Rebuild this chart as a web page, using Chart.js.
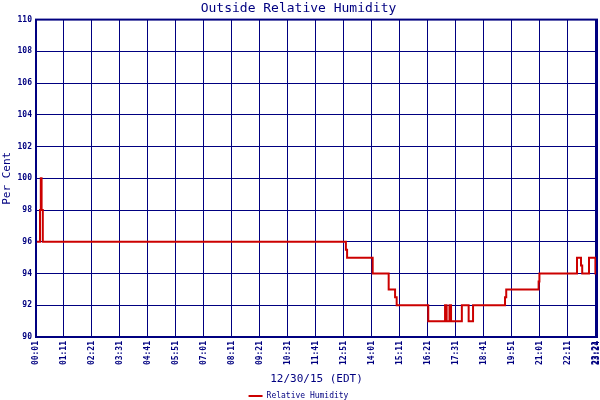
<!DOCTYPE html>
<html>
<head>
<meta charset="utf-8">
<script src="https://cdn.jsdelivr.net/npm/chart.js@4"></script>
<style>
  body { margin: 0; background: #fff; }
  #wrap { width: 600px; height: 400px; }
</style>
</head>
<body>
<div id="wrap"><canvas id="humidity-chart"></canvas></div>
<script>
// x tick labels (time of day, 12/30/15)
const tickLabels = ['00:01', '01:11', '02:21', '03:31', '04:41', '05:51', '07:01', '08:11',
  '09:21', '10:31', '11:41', '12:51', '14:01', '15:11', '16:21', '17:31', '18:41', '19:51',
  '21:01', '22:11', '23:21', '23:24'];

// minute of the day at which the reading changes, and the new reading (%)
const changeTimes = [1, 11, 13, 15, 18, 776, 779, 843, 883, 899, 903, 982, 1024, 1028, 1035,
  1039, 1066, 1083, 1094, 1174, 1177, 1258, 1260, 1354, 1364, 1367, 1384, 1400, 1404];
const humidity = [96, 98, 100, 98, 96, 95.5, 95, 94, 93, 92.5, 92, 91, 92, 91, 92,
  91, 92, 91, 92, 92.5, 93, 93.5, 94, 95, 94.5, 94, 95, 94, 94];

const yTicks = [90, 92, 94, 96, 98, 100, 102, 104, 106, 108, 110];

const NAVY = '#000080';
const RED = '#cc0000';
const BOTTOM_PAD = -10;

function toMinutes(label) {
  const [h, m] = label.split(':').map(Number);
  return h * 60 + m;
}

const points = changeTimes.map((t, i) => ({ x: t, y: humidity[i] }));

// heavier frame round the plot area
const framePlugin = {
  id: 'frame',
  afterDraw(chart) {
    const { ctx, chartArea: a } = chart;
    ctx.save();
    ctx.strokeStyle = NAVY;
    ctx.lineWidth = 2;
    ctx.strokeRect(a.left, a.top, a.right - a.left, a.bottom - a.top);
    ctx.restore();
  }
};

Chart.defaults.font.family = "'DejaVu Sans Mono', monospace";
Chart.defaults.color = NAVY;

new Chart(document.getElementById('humidity-chart'), {
  type: 'line',
  data: {
    datasets: [{
      label: 'Relative Humidity',
      data: points,
      stepped: 'before',
      borderColor: RED,
      backgroundColor: RED,
      borderWidth: 2,
      pointRadius: 0,
      fill: false
    }]
  },
  options: {
    responsive: true,
    maintainAspectRatio: false,
    animation: false,
    layout: { padding: { left: 0, right: 3, top: 0, bottom: BOTTOM_PAD } },
    scales: {
      x: {
        type: 'linear',
        min: toMinutes(tickLabels[0]),
        max: toMinutes(tickLabels[tickLabels.length - 1]),
        afterBuildTicks: (scale) => {
          scale.ticks = tickLabels.map(t => ({ value: toMinutes(t) }));
        },
        afterFit: (scale) => {
          scale.paddingLeft = 0;
          scale.paddingRight = 0;
          scale.height = 400 - BOTTOM_PAD - 337 - scale.chart.legend.height;
        },
        ticks: {
          autoSkip: false,
          minRotation: 90,
          maxRotation: 90,
          padding: 4,
          font: { size: 8, weight: 'bold' },
          callback: (value, index) => tickLabels[index]
        },
        grid: { color: NAVY, lineWidth: 1, drawTicks: false },
        border: { color: NAVY, width: 2 },
        title: {
          display: true,
          text: '12/30/15 (EDT)',
          font: { size: 11 },
          padding: { top: 4, bottom: 4 }
        }
      },
      y: {
        min: 90,
        max: 110,
        afterBuildTicks: (scale) => {
          scale.ticks = yTicks.map(v => ({ value: v }));
        },
        afterFit: (scale) => { scale.width = 36; },
        ticks: {
          padding: 4,
          font: { size: 8, weight: 'bold' }
        },
        grid: { color: NAVY, lineWidth: 1, drawTicks: false },
        border: { color: NAVY, width: 2 },
        title: {
          display: true,
          text: 'Per Cent',
          font: { size: 11 },
          padding: { top: 1, bottom: 0 }
        }
      }
    },
    plugins: {
      title: {
        display: true,
        text: 'Outside Relative Humidity',
        color: NAVY,
        font: { size: 13, weight: 'normal' },
        padding: { top: 1, bottom: 3 }
      },
      legend: {
        position: 'bottom',
        labels: {
          usePointStyle: true,
          pointStyle: 'line',
          pointStyleWidth: 14,
          boxHeight: 8,
          padding: 2,
          color: NAVY,
          font: { size: 8 }
        }
      },
      tooltip: { enabled: false }
    }
  },
  plugins: [framePlugin]
});
</script>
</body>
</html>
